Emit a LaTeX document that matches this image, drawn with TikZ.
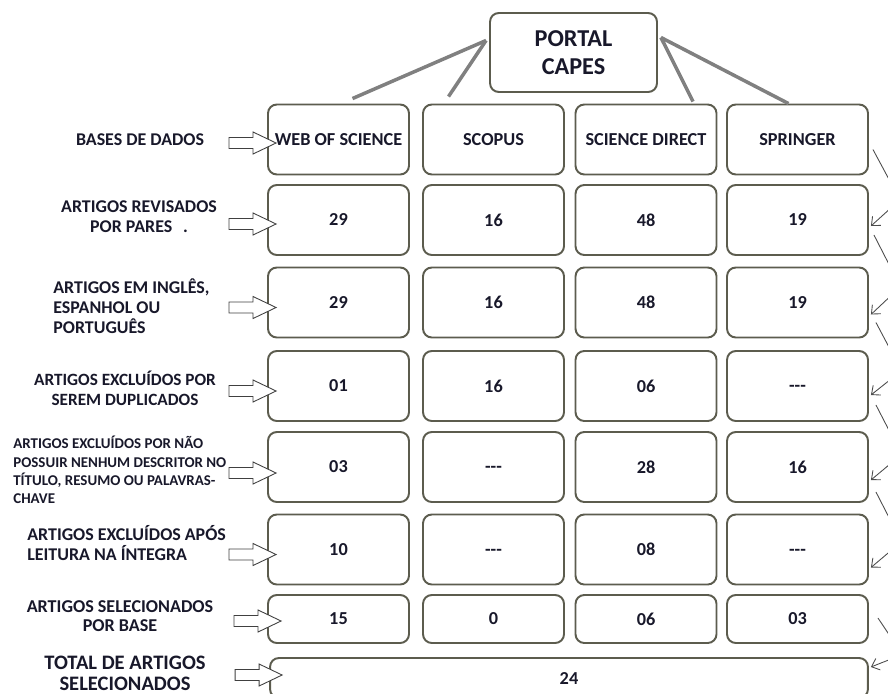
\documentclass[tikz,border=0pt]{standalone}
\usepackage{fontspec}
\setmainfont{Carlito}
\usetikzlibrary{calc,arrows.meta}

\definecolor{boxline}{RGB}{92,92,78}
\definecolor{feedline}{RGB}{128,128,128}
\definecolor{ink}{RGB}{24,24,42}
\newcommand{\tridash}{\raisebox{0pt}[0.63em][0pt]{-{}-{}-}}

\tikzset{
  cell/.style={draw=boxline, line width=1.1pt, rounded corners=5pt,
    minimum width=2.82cm, minimum height=1.4cm, inner sep=0pt,
    font=\bfseries\fontsize{10.4}{12}\selectfont, text=ink},
  rowlabel/.style={font=\bfseries\fontsize{10.2}{11.5}\selectfont, text=ink, inner sep=0pt},
  hollowarrow/.pic={
    \draw[draw=black!75, fill=white, line width=0.5pt] (0,0) -- (-23,-11) -- (-23,-5.5)
      -- (-47,-5.5) -- (-47,5.5) -- (-23,5.5) -- (-23,11) -- cycle;
  },
  link/.style={draw=black!70, line width=0.5pt, -{Straight Barb[length=4pt,width=7pt]}},
  feed/.style={draw=feedline, line width=2pt}
}

\begin{document}
\begin{tikzpicture}[x=0.02cm,y=-0.02cm]
    \useasboundingbox (0,0) rectangle (888,693);
    \clip (0,0) rectangle (888,693);

    % portal and the four bases
    \node[cell, minimum width=3.34cm, minimum height=1.58cm, align=center,
      font=\bfseries\fontsize{13.8}{16}\selectfont] (portal) at (573.5,52.5) {PORTAL\\CAPES};
    \node[cell] (c1-1) at (338.5,139.5) {WEB OF SCIENCE};
    \node[cell] (c2-1) at (493.5,139.5) {SCOPUS};
    \node[cell] (c3-1) at (646,139.5) {SCIENCE DIRECT};
    \node[cell] (c4-1) at (797.5,139.5) {SPRINGER};

    \draw[feed] ($(portal.west)+(-3,-12)$) -- ($(c1-1.north)+(14,-5)$);
    \draw[feed] ($(portal.west)+(-3,-12)$) -- ($(c2-1.north)+(-45,-7)$);
    \draw[feed] ($(portal.east)+(3,-15)$) -- ($(c3-1.north)+(47,-2)$);
    \draw[feed] ($(portal.east)+(3,-15)$) -- ($(c4-1.north)+(-9,0)$);

    % counts per base
    \foreach \r/\y/\a/\b/\c/\d in {2/220/29/16/48/19, 3/302.5/29/16/48/19,
        4/386/01/16/06/\tridash, 5/467/03/\tridash/28/16, 6/549.5/10/\tridash/08/\tridash}{
      \node[cell] (c1-\r) at (338.5,\y) {\a};
      \node[cell] (c2-\r) at (493.5,\y) {\b};
      \node[cell] (c3-\r) at (646,\y) {\c};
      \node[cell] (c4-\r) at (797.5,\y) {\d};
    }
    \node[cell, minimum height=0.96cm] (c1-7) at (338.5,619) {15};
    \node[cell, minimum height=0.96cm] (c2-7) at (493.5,619) {0};
    \node[cell, minimum height=0.96cm] (c3-7) at (646,619) {06};
    \node[cell, minimum height=0.96cm] (c4-7) at (797.5,619) {03};
    \node[cell, minimum width=11.96cm, minimum height=0.8cm] (total) at (569,678) {24};

    % row labels
    \node[rowlabel, align=center] (lab1) at (140,140) {BASES DE DADOS};
    \node[rowlabel, align=center] (lab2) at (139,217) {ARTIGOS REVISADOS\\POR PARES\hspace{0.6em}.};
    \node[rowlabel, align=left, anchor=west] (lab3) at (53,306) {ARTIGOS EM INGLÊS,\\ESPANHOL OU\\PORTUGUÊS};
    \node[rowlabel, align=center, font=\bfseries\fontsize{9.8}{11.2}\selectfont]
      (lab4) at (125,388) {ARTIGOS EXCLUÍDOS POR\\SEREM DUPLICADOS};
    \node[rowlabel, align=left, anchor=west, font=\bfseries\fontsize{8.5}{10.5}\selectfont]
      (lab5) at (13,470) {ARTIGOS EXCLUÍDOS POR NÃO\\POSSUIR NENHUM DESCRITOR NO\\TÍTULO, RESUMO OU PALAVRAS-\\CHAVE};
    \node[rowlabel, align=left, anchor=west] (lab6) at (27,543) {ARTIGOS EXCLUÍDOS APÓS\\LEITURA NA ÍNTEGRA};
    \node[rowlabel, align=center, font=\bfseries\fontsize{10.3}{11.2}\selectfont]
      (lab7) at (120,616) {ARTIGOS SELECIONADOS\\POR BASE};
    \node[rowlabel, align=center, font=\bfseries\fontsize{11.7}{11.8}\selectfont]
      (lab8) at (125,673) {TOTAL DE ARTIGOS\\SELECIONADOS};

    % hollow arrows into the first column
    \foreach \r/\dy in {1/3.5, 2/4, 3/5, 4/5, 5/6, 6/5}
      \pic (arr\r) at ($(c1-\r.west)+(9,\dy)$) {hollowarrow};
    \pic (arr7) at ($(c1-7.west)+(14,2)$) {hollowarrow};
    \pic (arr8) at ($(total.west)+(13,-3)$) {hollowarrow};

    % thin links on the right
    \foreach \a/\b/\ox/\oy/\iy in {c4-1/c4-2/4/10/6, c4-2/c4-3/5/15/12, c4-3/c4-4/7/20/9,
        c4-4/c4-5/7/19/13, c4-5/c4-6/7/25/18, c4-7/total/9/-1/-11}{
      \coordinate (from) at ($(\a.east)+(\ox,\oy)$);
      \coordinate (to) at ($(\b.east)+(2,\iy)$);
      \draw[link] (from) -- ($(from)!0.5!(to)+(28,12)$) -- (to);
    }
\end{tikzpicture}
\end{document}
